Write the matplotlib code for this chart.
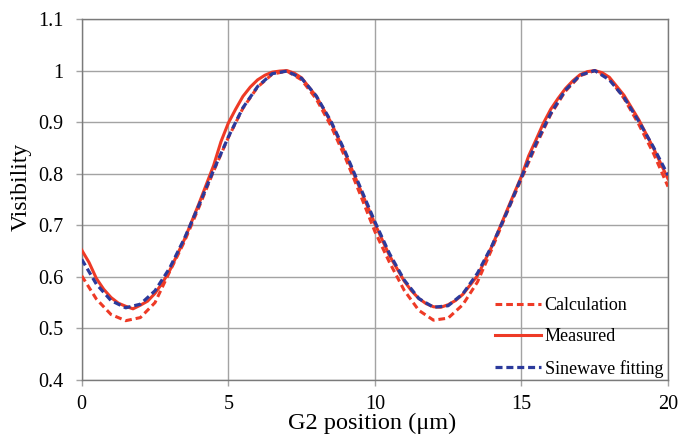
import matplotlib
matplotlib.use("Agg")
import matplotlib.pyplot as plt

# ---- data ----
x_fit = [0.0, 0.5, 1.0, 1.5, 2.0, 2.5, 3.0, 3.5, 4.0, 4.5, 5.0, 5.5, 6.0, 6.5, 7.0,
         7.5, 8.0, 8.5, 9.0, 9.5, 10.0, 10.5, 11.0, 11.5, 12.0, 12.5, 13.0, 13.5,
         14.0, 14.5, 15.0, 15.5, 16.0, 16.5, 17.0, 17.5, 18.0, 18.5, 19.0, 19.5, 20.0]
sine_fit = [0.634, 0.586, 0.554, 0.540, 0.547, 0.573, 0.617, 0.674, 0.739, 0.807,
            0.871, 0.928, 0.969, 0.994, 0.999, 0.985, 0.951, 0.902, 0.841, 0.774,
            0.707, 0.645, 0.594, 0.558, 0.541, 0.544, 0.567, 0.607, 0.661, 0.725,
            0.793, 0.859, 0.917, 0.962, 0.991, 1.000, 0.982, 0.948, 0.902, 0.852, 0.797]

x_calc = x_fit
calculation = [0.602, 0.557, 0.527, 0.515, 0.521, 0.550, 0.610, 0.668, 0.735, 0.805,
               0.870, 0.927, 0.968, 0.993, 0.999, 0.982, 0.945, 0.893, 0.830, 0.760,
               0.688, 0.628, 0.574, 0.535, 0.516, 0.520, 0.546, 0.590, 0.655, 0.724,
               0.790, 0.855, 0.915, 0.960, 0.990, 1.000, 0.985, 0.946, 0.896, 0.840, 0.775]

x_meas = [0.0, 0.25, 0.5, 0.75, 1.0, 1.25, 1.5, 1.75, 2.0, 2.25, 2.5, 2.75, 3.0, 3.5,
          4.0, 4.5, 4.75, 5.0, 5.25, 5.5, 5.75, 6.0, 6.25, 6.5, 6.75, 7.0, 7.25, 7.5,
          8.0, 8.5, 9.0, 9.5, 10.0, 10.5, 11.0, 11.25, 11.5, 11.75, 12.0, 12.25, 12.5,
          12.75, 13.0, 13.5, 14.0, 14.5, 15.0, 15.25, 15.5, 15.75, 16.0, 16.25, 16.5,
          16.75, 17.0, 17.25, 17.5, 17.75, 18.0, 18.5, 19.0, 19.5, 20.0]
measured = [0.652, 0.628, 0.597, 0.576, 0.560, 0.549, 0.543, 0.538, 0.545, 0.553,
            0.568, 0.588, 0.612, 0.672, 0.742, 0.816, 0.862, 0.898, 0.925, 0.950,
            0.968, 0.982, 0.991, 0.997, 0.999, 1.000, 0.995, 0.986, 0.950, 0.900,
            0.838, 0.770, 0.703, 0.641, 0.592, 0.573, 0.558, 0.548, 0.542, 0.541,
            0.546, 0.554, 0.566, 0.602, 0.660, 0.728, 0.795, 0.835, 0.866, 0.898,
            0.925, 0.946, 0.965, 0.980, 0.992, 0.998, 1.000, 0.996, 0.987, 0.952,
            0.905, 0.850, 0.790]

x_ticks = [0, 5, 10, 15, 20]
y_ticks = [0.4, 0.5, 0.6, 0.7, 0.8, 0.9, 1.0, 1.1]
y_tick_labels = ["0.4", "0.5", "0.6", "0.7", "0.8", "0.9", "1", "1.1"]

# ---- style ----
plt.rcParams['font.family'] = ['Liberation Serif', 'DejaVu Serif']
RED = '#ee3a26'
BLUE = '#2b3a9c'
GRID = '#a3a3a3'

fig = plt.figure(figsize=(6.8, 4.37), dpi=100)
ax = fig.add_axes([81.7 / 680, 1 - 380 / 437, (668 - 81.7) / 680, (380 - 19) / 437])

ax.plot(x_calc, calculation, color=RED, lw=2.2, dashes=(2.2, 1.3), label='Calculation', zorder=3)
ax.plot(x_meas, measured, color=RED, lw=2.2, label='Measured', zorder=4,
        solid_joinstyle='round')
ax.plot(x_fit, sine_fit, color=BLUE, lw=2.3, dashes=(2.2, 1.2), label='Sinewave fitting', zorder=5)

ax.set_xlim(0, 20)
ax.set_ylim(0.4, 1.1)
ax.set_xticks(x_ticks)
ax.set_yticks(y_ticks)
ax.set_yticklabels(y_tick_labels)
ax.grid(True, color=GRID, lw=1.0)
ax.set_axisbelow(True)
for s in ax.spines.values():
    s.set_color('#7a7a7a')
    s.set_linewidth(1.0)
ax.tick_params(axis='both', direction='out', length=4, width=1.0, color=GRID,
               labelsize=14.5, labelcolor='black')
ax.tick_params(axis='x', pad=7)
ax.tick_params(axis='y', pad=9)

fig.text(372 / 680, 1 - 429 / 437, 'G2 position (\u03bcm)', fontsize=17.5,
         ha='center', va='baseline')
fig.text(27 / 680, 1 - 187 / 437, 'Visibility', fontsize=17, rotation=90,
         rotation_mode='anchor', ha='center', va='baseline')

leg = ax.legend(loc='upper left', bbox_to_anchor=((495 - 81.7) / 586.3, (380 - 297) / 361),
                frameon=False, fontsize=13, handlelength=2.55, handletextpad=0.2,
                labelspacing=0.8, borderpad=0, borderaxespad=0)

fig.savefig('out.png', dpi=100)
